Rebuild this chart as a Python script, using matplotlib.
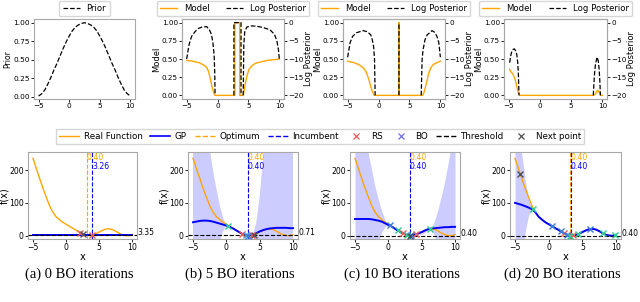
import matplotlib
matplotlib.use("Agg")
import matplotlib.pyplot as plt
from matplotlib.lines import Line2D
import numpy as np

nan = np.nan

# ---------------- top row data ----------------
grid = np.linspace(-5, 10, 31)  # x sampling, step 0.5

prior = [0.01, 0.04, 0.09, 0.17, 0.26, 0.36, 0.45, 0.55, 0.65, 0.74, 0.82, 0.89, 0.94, 0.97, 0.99, 1.0,
         0.99, 0.97, 0.94, 0.89, 0.82, 0.74, 0.65, 0.55, 0.45, 0.36, 0.26, 0.17, 0.09, 0.04, 0.01]

model2_x = [-5, -4, -3, -2.3, -1.8, -1.5, -1.2, -0.9, -0.6, -0.4, 2.8, 2.8, 3.6, 3.6, 4.1, 4.3, 4.5, 4.8, 5.1, 5.6, 6.1, 7, 8, 9, 10]
model2_y = [0.48, 0.47, 0.45, 0.42, 0.39, 0.34, 0.24, 0.12, 0.03, 0.0, 0.0, 1.0, 1.0, 0.0, 0.0, 0.06, 0.17, 0.28, 0.36, 0.41, 0.44, 0.46, 0.48, 0.49, 0.5]
logp2_x = [-5, -4.6, -4.2, -3.6, -3.1, -2.5, -1.75, -1.3, -1.0, -0.75, -0.55, -0.45, -0.4, nan,
           2.65, 2.65, 3.8, 3.8, nan,
           4.15, 4.25, 4.4, 4.75, 5.5, 6.4, 7.5, 8.5, 9.2, 9.6, 9.85, 10]
logp2_y = [-10, -6, -3.8, -2.4, -1.6, -1.2, -1.1, -2.0, -3.2, -5.5, -9, -14, -20, nan,
           -20, 0, 0, -20, nan,
           -20, -6, -2.5, -1.2, -0.9, -1.0, -1.4, -2.0, -3.2, -5, -7.5, -10]

model3_x = [-5, -4, -3.1, -2.5, -2.05, -1.6, -1.25, -0.95, -0.7, 3.3, 3.3, 3.3, 7.1, 7.4, 7.75, 8.1, 8.4, 8.8, 9.2, 10]
model3_y = [0.47, 0.45, 0.42, 0.38, 0.33, 0.23, 0.12, 0.04, 0.0, 0.0, 1.0, 0.0, 0.0, 0.05, 0.17, 0.3, 0.37, 0.42, 0.44, 0.47]
logp3_x = [-5, -4.6, -4.2, -3.6, -2.5, -1.8, -1.25, -1.0, -0.8, -0.65, -0.55, nan,
           3.3, 3.3, nan,
           6.9, 7.05, 7.2, 7.5, 7.85, 8.65, 9.1, 9.45, 9.75, 10]
logp3_y = [-9.5, -5.5, -3.8, -2.8, -2.2, -2.5, -3.4, -4.8, -6.6, -10, -20, nan,
           -20, 0, nan,
           -20, -10, -7.5, -4.8, -3.4, -2.2, -2.7, -3.8, -5.5, -9.5]

model4_x = [-4.85, -4.7, -4.4, -4.2, -3.9, -3.7, -3.45, -3.25, 8.6, 8.9, 9.15, 9.3, 9.45, 9.7, 10]
model4_y = [0.36, 0.33, 0.3, 0.27, 0.2, 0.12, 0.04, 0.0, 0.0, 0.02, 0.06, 0.07, 0.05, 0.0, 0.0]
logp4_x = [-4.85, -4.6, -4.4, -4.1, -3.85, -3.7, -3.55, -3.45, -3.35, nan,
           8.55, 8.75, 8.9, 9.15, 9.35, 9.5, 9.6, 9.7]
logp4_y = [-11, -8.5, -7.5, -7.2, -7.8, -8.8, -11, -14, -20, nan,
           -20, -14, -11.5, -9.5, -10.5, -13, -16, -20]

# ---------------- bottom row data ----------------
real_f = [236, 205, 175, 145, 118, 92, 72, 58, 49, 41, 35, 29, 23, 17, 11, 5, 1, 0.5, 2, 6,
          11, 16, 20, 21, 19, 14, 8, 3, 0.5, 0, 3]

gp_mean_a = [3.0] * 31

gp_mean_b = [41, 43, 45, 46, 46, 45, 43, 40, 37, 34, 31, 27, 22, 16, 10, 4, 1, 1, 3, 8,
             13, 17, 20, 22, 23, 24, 24, 24, 24, 23, 23]
gp_up_b = [700, 600, 500, 420, 340, 265, 200, 145, 95, 55, 33, 28, 23, 17, 11, 5, 1.5, 1.5, 4, 40,
           120, 230, 330, 420, 500, 570, 630, 680, 720, 750, 780]
gp_lo_b = [-618, -514, -410, -328, -248, -175, -114, -65, -21, 13, 29, 26, 21, 15, 9, 3, 0.5, 0.5, 2, -24,
           -94, -196, -290, -376, -454, -522, -582, -632, -672, -704, -734]

gp_mean_c = [51, 51, 51, 51, 51, 50, 48, 46, 43, 38, 33, 28, 21, 15, 9, 4, 2, 2, 4, 7,
             11, 16, 20, 22, 23, 24, 25, 26, 26, 27, 27]
gp_up_c = [500, 430, 360, 300, 250, 200, 150, 110, 75, 48, 35, 30, 24, 16, 11, 5, 3, 3, 5, 10,
           17, 22, 22, 26, 50, 85, 125, 170, 225, 290, 360]
gp_lo_c = [-398, -328, -258, -198, -148, -100, -54, -18, 11, 28, 31, 26, 18, 14, 7, 3, 1, 1, 3, 4,
           5, 10, 18, 18, -4, -37, -75, -118, -173, -236, -306]

gp_mean_d = [100, 97, 94, 90, 86, 81, 72, 58, 49, 41, 35, 29, 23, 17, 11, 5, 1, 0.5, 2, 6,
             11, 16, 20, 21, 19, 14, 8, 3, 0.5, 0, 3]
gp_up_d = [330, 290, 250, 170, 110, 85, 73, 59, 50, 42, 36, 30, 24, 18, 12, 6, 2, 1.5, 3, 7,
           12, 17, 21, 22, 20, 15, 9, 4, 1.5, 1, 4]
gp_lo_d = [-130, -90, -60, 10, 62, 77, 71, 57, 48, 40, 34, 28, 22, 16, 10, 4, 0, -0.5, 1, 5,
           10, 15, 19, 20, 18, 13, 7, 2, -0.5, -1, 2]

opt_x = [3.18, 3.2, 3.2, 3.2]
opt_val = ["0.40", "0.40", "0.40", "0.40"]
inc_x = [3.94, 3.25, 3.25, 3.25]
inc_val = ["3.26", "0.40", "0.40", "0.40"]
thresholds = [3.35, 0.71, 0.40, 0.40]

rs_x = [[2.1, 3.94], [2.4, 3.9], [2.2, 4.2], [2.3, 3.6]]
rs_y = [[9, 3.26], [6, 2], [8, 4], [8, 1]]
bo_x = [[], [0.25, 2.9, 3.25], [0.25, 1.5, 2.8, 3.4, 6.25],
        [-2.3, 0.45, 1.8, 2.7, 3.2, 4.3, 6.1, 8.0, 9.85]]
bo_y = [[], [31, 1.5, 0.4], [33, 17, 2, 1, 21], [80, 30, 14, 3, 0.5, 5, 21, 8, 2]]
next_x = [2.6, 4.1, 3.2, -4.2]
next_y = [4, 2.5, 0.5, 187]

captions = ["(a) 0 BO iterations", "(b) 5 BO iterations", "(c) 10 BO iterations", "(d) 20 BO iterations"]

# ---------------- style ----------------
ORANGE = "#ffa500"
BLUE = "#0000ff"
RS_C = "#f05a5a"
BO_LEG = "#6e6ef0"
NEXT_C = "#505050"
BO_COLS = [[], ["#2ecc8f", "#3aa0d8", "#3b7dd8"],
           ["#3b7dd8", "#2ecc8f", "#2ecc8f", "#3b7dd8", "#2ecc8f"],
           ["#2ecc8f", "#3b7dd8", "#3b7dd8", "#3b7dd8", "#2ecc8f", "#2ecc8f", "#3b7dd8", "#2ecc8f", "#2ecc8f"]]
SPINE = "#a8a8a8"

W, H = 640, 302
fig = plt.figure(figsize=(W / 100, H / 100), dpi=100)


def box(l, r, t, b):
    return [l / W, 1 - b / H, (r - l) / W, (b - t) / H]


def style(ax, fs):
    for s in ax.spines.values():
        s.set_color(SPINE)
        s.set_linewidth(0.8)
    ax.tick_params(labelsize=fs, length=2, width=0.6, pad=1)


top_pos = [(34, 135, 19, 99), (182, 284, 19, 99), (343, 445, 19, 99), (504, 607, 19, 99)]
bot_pos = [(28, 137, 152, 239), (188, 298, 152, 239), (350, 460, 152, 239), (510, 621, 152, 239)]

# prior panel
ax = fig.add_axes(box(*top_pos[0]))
ax.plot(grid, prior, "k--", lw=0.9, label="Prior")
ax.set_xlim(-5.75, 10.75)
ax.set_ylim(-0.03, 1.05)
ax.set_xticks([-5, 0, 5, 10])
ax.set_yticks([0, 0.25, 0.5, 0.75, 1.0])
ax.set_yticklabels(["0.00", "0.25", "0.50", "0.75", "1.00"])
ax.set_ylabel("Prior", fontsize=5.5, labelpad=1)
style(ax, 5.3)
ax.legend(loc="lower center", bbox_to_anchor=(0.5, 1.0), fontsize=6.1, borderaxespad=0.3)

models = [(model2_x, model2_y, logp2_x, logp2_y),
          (model3_x, model3_y, logp3_x, logp3_y),
          (model4_x, model4_y, logp4_x, logp4_y)]
for i, (mx, my, lx, ly) in enumerate(models):
    ax = fig.add_axes(box(*top_pos[i + 1]))
    ax2 = ax.twinx()
    l1, = ax.plot(mx, my, color=ORANGE, lw=1.0, label="Model")
    l2, = ax2.plot(lx, ly, "k--", lw=0.9, label="Log Posterior")
    ax.set_xlim(-5.75, 10.75)
    ax.set_ylim(-0.05, 1.05)
    ax2.set_ylim(-21, 1)
    ax.set_xticks([-5, 0, 5, 10])
    ax.set_yticks([0, 0.25, 0.5, 0.75, 1.0])
    ax.set_yticklabels(["0.00", "0.25", "0.50", "0.75", "1.00"])
    ax2.set_yticks([0, -5, -10, -15, -20])
    ax.set_ylabel("Model", fontsize=6.0, labelpad=0.5)
    ax2.set_ylabel("Log Posterior", fontsize=6.0, labelpad=0.5)
    style(ax, 5.2)
    style(ax2, 5.2)
    ax2.legend([l1, l2], ["Model", "Log Posterior"], loc="lower center", bbox_to_anchor=(0.5, 1.0),
               ncol=2, fontsize=6.1, borderaxespad=0.3)

# bottom panels
gps = [(gp_mean_a, None, None), (gp_mean_b, gp_up_b, gp_lo_b),
       (gp_mean_c, gp_up_c, gp_lo_c), (gp_mean_d, gp_up_d, gp_lo_d)]
for i, (mean, up, lo) in enumerate(gps):
    l, r, t, b = bot_pos[i]
    ax = fig.add_axes(box(l, r, t, b))
    if up is not None:
        ax.fill_between(grid, lo, up, color=BLUE, alpha=0.2, lw=0)
    ax.plot(grid, real_f, color=ORANGE, lw=1.0, zorder=3)
    ax.plot(grid, mean, color=BLUE, lw=1.4, zorder=4)
    ax.axvline(opt_x[i], color=ORANGE, ls="--", lw=0.8, zorder=5)
    ax.axvline(inc_x[i], color=BLUE, ls="--", lw=0.8, zorder=5)
    ax.axhline(thresholds[i], color="k", ls="--", lw=0.8, zorder=5)
    tr = ax.get_xaxis_transform()
    ax.text(opt_x[i], 0.985, opt_val[i], transform=tr, color=ORANGE, fontsize=5.6, va="top", ha="left")
    ax.text(inc_x[i], 0.885, inc_val[i], transform=tr, color=BLUE, fontsize=5.6, va="top", ha="left")
    ax.text(10.85, thresholds[i], "%.2f" % thresholds[i], fontsize=5.5, va="baseline", ha="left")
    ax.plot(rs_x[i], rs_y[i], "x", color=RS_C, ms=4.5, mew=1.0, zorder=6, ls="none")
    for xx, yy, cc in zip(bo_x[i], bo_y[i], BO_COLS[i]):
        ax.plot(xx, yy, "x", color=cc, ms=4.5, mew=1.0, zorder=6)
    ax.plot(next_x[i], next_y[i], "x", color=NEXT_C, ms=4.5, mew=1.0, zorder=7)
    ax.set_xlim(-5.75, 10.75)
    ax.set_ylim(-10, 255)
    ax.set_xticks([-5, 0, 5, 10])
    ax.set_yticks([0, 100, 200])
    ax.set_xlabel("x", fontsize=7.2, labelpad=0)
    ax.set_ylabel("f(x)", fontsize=7.0)
    ax.yaxis.set_label_coords(-19.0 / (r - l), 0.5)
    style(ax, 5.6)
    fig.text(((l + r) / 2 - 3) / W, 1 - 274 / H, captions[i], ha="center", va="center",
             family="Liberation Serif", fontsize=10.5)

handles = [
    Line2D([], [], color=ORANGE, lw=1.0),
    Line2D([], [], color=BLUE, lw=1.2),
    Line2D([], [], color=ORANGE, lw=1.0, ls="--"),
    Line2D([], [], color=BLUE, lw=1.0, ls="--"),
    Line2D([], [], color=RS_C, marker="x", ls="none", ms=5, mew=0.9),
    Line2D([], [], color=BO_LEG, marker="x", ls="none", ms=5, mew=0.9),
    Line2D([], [], color="k", lw=1.0, ls="--"),
    Line2D([], [], color=NEXT_C, marker="x", ls="none", ms=5, mew=0.9),
]
labels = ["Real Function", "GP", "Optimum", "Incumbent", "RS", "BO", "Threshold", "Next point"]
fig.legend(handles, labels, loc="center", bbox_to_anchor=(0.5, 1 - 136.5 / H), ncol=8,
           fontsize=6.3, handlelength=2.3, handletextpad=0.5, columnspacing=0.9,
           borderpad=0.35, fancybox=False, edgecolor="#cccccc")

fig.savefig("out.png", dpi=100)
